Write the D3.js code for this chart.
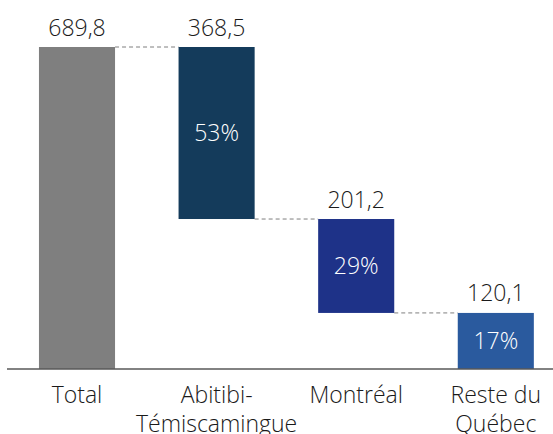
<!DOCTYPE html>
<html><head><meta charset="utf-8">
<script src="https://cdn.jsdelivr.net/npm/d3@7"></script>
<style>body{margin:0;background:#fff}svg{display:block}text{font-family:"Open Sans",sans-serif;font-weight:300}</style>
</head><body><svg id="c" width="553" height="434"></svg>
<script>
const categories = ["Total", "Abitibi-\nTémiscamingue", "Montréal", "Reste du\nQuébec"];
const values = [689.8, 368.5, 201.2, 120.1];
const valueLabels = ["689,8", "368,5", "201,2", "120,1"];
const shareLabels = [null, "53%", "29%", "17%"];
const colors = ["#7f7f7f", "#143b5b", "#1e3288", "#2a5a9e"];

const svg = d3.select("#c");
const x = d3.scaleBand().domain(categories).range([7.2, 565.6]).paddingInner(0.455).paddingOuter(0.2275);
const y = d3.scaleLinear().domain([0, 689.8]).range([369, 47]);

// waterfall: Total from 0; each part hangs down from previous
const bars = [];
let level = values[0];
values.forEach((v, i) => {
  if (i === 0) { bars.push({c: categories[i], y0: 0, y1: v, i}); }
  else { bars.push({c: categories[i], y0: level - v, y1: level, i}); level -= v; }
});

// connectors
for (let i = 0; i < bars.length - 1; i++) {
  const lvl = i === 0 ? bars[0].y1 : bars[i].y0;
  svg.append("line")
    .attr("x1", x(bars[i].c) + x.bandwidth()).attr("x2", x(bars[i + 1].c))
    .attr("y1", y(lvl)).attr("y2", y(lvl))
    .attr("stroke", "#7f7f7f").attr("stroke-width", 1).attr("stroke-dasharray", "4,3");
}

svg.selectAll("rect.bar").data(bars).join("rect")
  .attr("x", d => x(d.c)).attr("width", x.bandwidth())
  .attr("y", d => y(d.y1)).attr("height", d => y(d.y0) - y(d.y1))
  .attr("fill", d => colors[d.i]);

svg.selectAll("text.val").data(bars).join("text")
  .attr("x", d => x(d.c) + x.bandwidth() / 2).attr("y", d => y(d.y1) - 11.5)
  .attr("text-anchor", "middle").attr("font-size", 23).attr("fill", "#1a1a1a")
  .text(d => valueLabels[d.i]);

svg.selectAll("text.pct").data(bars.filter(d => shareLabels[d.i])).join("text")
  .attr("x", d => x(d.c) + x.bandwidth() / 2).attr("y", d => (y(d.y0) + y(d.y1)) / 2)
  .attr("dy", "0.35em")
  .attr("text-anchor", "middle").attr("font-size", 23).attr("fill", "#fff")
  .text(d => shareLabels[d.i]);

// axis
const axis = d3.axisBottom(x).tickSize(0).tickFormat("");
const g = svg.append("g").attr("transform", "translate(0,369)").call(axis);
g.select(".domain").attr("d", "M7,0H553").attr("stroke", "#595959").attr("stroke-width", 1.5);
g.selectAll(".tick").each(function(d) {
  const t = d3.select(this).append("text").attr("text-anchor", "middle")
    .attr("font-size", 23).attr("fill", "#1a1a1a");
  d.split("\n").forEach((line, j) => {
    t.append("tspan").attr("x", 0).attr("y", 34 + j * 29).text(line);
  });
});
</script></body></html>
